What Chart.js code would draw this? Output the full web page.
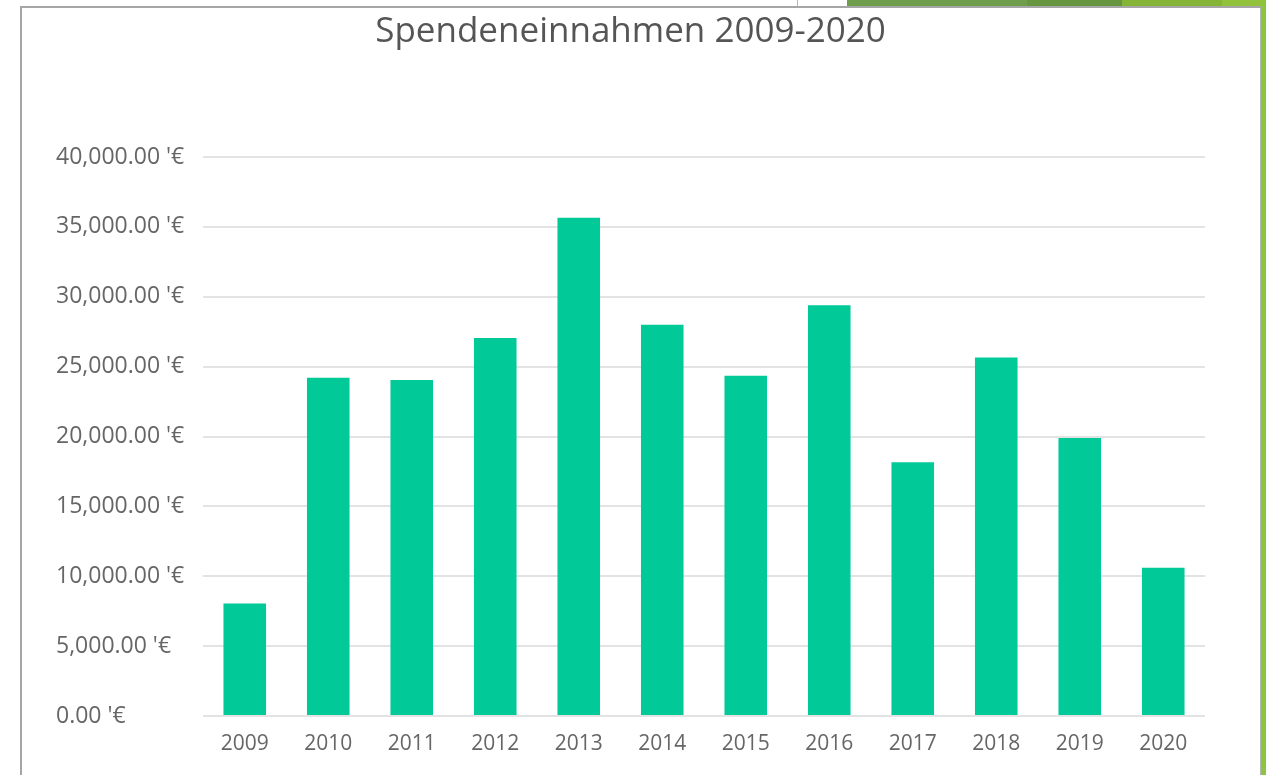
<!DOCTYPE html>
<html>
<head>
<meta charset="utf-8">
<script src="https://cdn.jsdelivr.net/npm/chart.js@4/dist/chart.umd.min.js"></script>
<style>
  html, body { margin: 0; padding: 0; background: #ffffff; width: 1266px; height: 775px; overflow: hidden; position: relative; }
  .deco { position: absolute; }
  #frame { left: 20px; top: 6px; width: 1238px; height: 780px; border-left: 2px solid #a6a6a6; border-top: 2px solid #a6a6a6; border-right: 2px solid #b4b4b4; background: #ffffff; }
  #wrap { position: absolute; left: 0; top: 0; width: 1266px; height: 775px; }
</style>
</head>
<body>
<div class="deco" id="frame"></div>
<div class="deco" style="left:797px;top:0;width:1px;height:6px;background:#b8b8b8;"></div>
<div class="deco" style="left:847px;top:0;width:180px;height:6px;background:#6e9d4b;"></div>
<div class="deco" style="left:1027px;top:0;width:95px;height:6px;background:#669640;"></div>
<div class="deco" style="left:1122px;top:0;width:100px;height:6px;background:#86b436;"></div>
<div class="deco" style="left:1222px;top:0;width:44px;height:6px;background:#92c23c;"></div>
<div class="deco" style="left:1261px;top:0;width:5px;height:775px;background:#8cc63f;"></div>
<div id="wrap"><canvas id="c" width="1266" height="775"></canvas></div>
<script>
const categories = ['2009','2010','2011','2012','2013','2014','2015','2016','2017','2018','2019','2020'];
const donations = [8050, 24200, 24050, 27050, 35650, 28000, 24350, 29400, 18150, 25650, 19900, 10600];
const yTicks = [0, 5000, 10000, 15000, 20000, 25000, 30000, 35000, 40000];
const chartTitle = 'Spendeneinnahmen 2009-2020';

const fmt = v => v.toLocaleString('en-US', {minimumFractionDigits: 2, maximumFractionDigits: 2}) + " '€";

new Chart(document.getElementById('c'), {
  type: 'bar',
  data: {
    labels: categories,
    datasets: [{
      data: donations,
      backgroundColor: '#02c998',
      borderWidth: 0,
      barPercentage: 0.51,
      categoryPercentage: 1.0
    }]
  },
  options: {
    responsive: false,
    animation: false,
    devicePixelRatio: 1,
    layout: { padding: { left: 56, right: 61, top: 0, bottom: 14 } },
    plugins: {
      legend: { display: false },
      tooltip: { enabled: false },
      title: {
        display: true,
        text: chartTitle,
        color: '#555555',
        font: { family: 'Open Sans', size: 35, weight: 'normal' },
        padding: { top: 11, bottom: 104 }
      }
    },
    scales: {
      x: {
        grid: { display: false, drawTicks: false },
        border: { display: false },
        ticks: {
          color: '#666666',
          font: { family: 'Open Sans', size: 21 },
          padding: 15,
          maxRotation: 0
        },
        afterFit: s => { s.height = 45; }
      },
      y: {
        min: 0,
        max: 40000,
        afterBuildTicks: s => { s.ticks = yTicks.map(v => ({ value: v })); },
        grid: { color: '#e3e3e3', lineWidth: 2, drawTicks: false },
        border: { display: false },
        ticks: {
          color: '#666666',
          font: { family: 'Open Sans', size: 23 },
          crossAlign: 'far',
          callback: v => fmt(v)
        },
        afterFit: s => { s.width = 147; }
      }
    }
  }
});
</script>
</body>
</html>
